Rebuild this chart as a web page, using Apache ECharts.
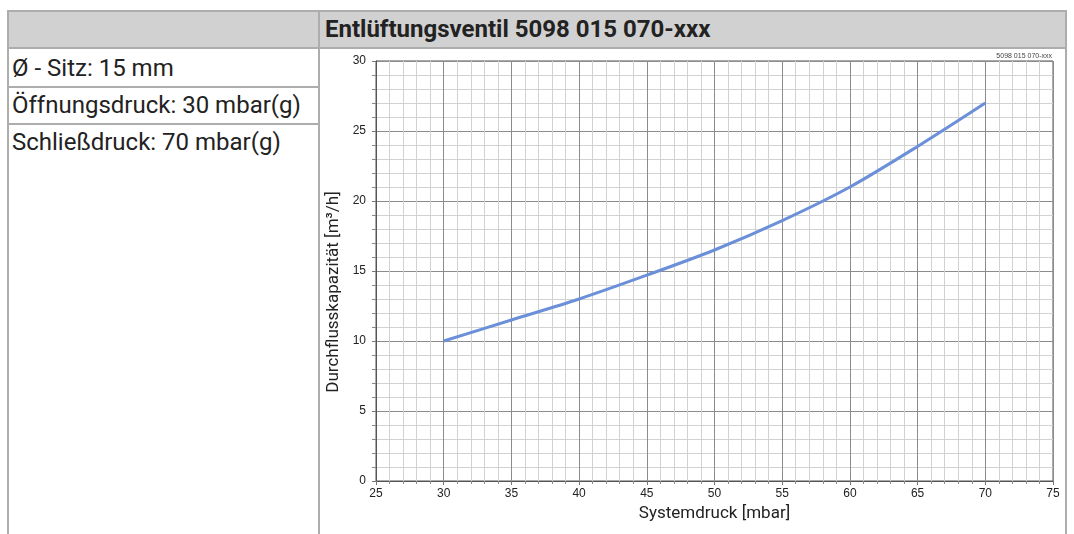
<!DOCTYPE html>
<html>
<head>
<meta charset="utf-8">
<title>Entlüftungsventil 5098 015 070-xxx</title>
<script src="https://cdn.jsdelivr.net/npm/echarts@6/dist/echarts.min.js"></script>
<style>
  body { margin: 0; background: #fff; font-family: Roboto, "Noto Sans", sans-serif; }
  .ln { position: absolute; background: #adadad; }
  .head { position: absolute; left: 8px; top: 10px; width: 1058px; height: 38px; background: #d1d1d1; }
  .title { position: absolute; left: 325px; top: 15px; font-size: 24px; font-weight: bold; color: #222; }
  .cell { position: absolute; left: 12px; font-size: 24px; color: #222; }
  #chart { position: absolute; left: 0; top: 0; width: 1074px; height: 534px; }
</style>
</head>
<body>
<!-- Tabelle im Hintergrund -->
<div class="head"></div>
<div class="ln" style="left:8px;top:10px;width:1058px;height:2px"></div>
<div class="ln" style="left:8px;top:47px;width:1058px;height:2px"></div>
<div class="ln" style="left:8px;top:86px;width:311px;height:2px"></div>
<div class="ln" style="left:8px;top:123px;width:311px;height:2px"></div>
<div class="ln" style="left:7px;top:10px;width:2px;height:524px"></div>
<div class="ln" style="left:318px;top:10px;width:2px;height:524px"></div>
<div class="ln" style="left:1065px;top:10px;width:2px;height:524px"></div>
<div class="title">Entlüftungsventil 5098 015 070-xxx</div>
<div class="cell" style="top:54px">Ø - Sitz: 15 mm</div>
<div class="cell" style="top:91px">Öffnungsdruck: 30 mbar(g)</div>
<div class="cell" style="top:128px">Schließdruck: 70 mbar(g)</div>

<div id="chart"></div>
<script>
// Werte
var systemdruck = [30, 35, 40, 45, 50, 55, 60, 65, 70]
var durchfluss = [10, 11.5, 13, 14.7, 16.5, 18.6, 21, 23.9, 27]

var chart = echarts.init(document.getElementById('chart'), null, { renderer: 'canvas' })

var points = systemdruck.map(function (x, i) { return [x, durchfluss[i]] })

chart.setOption({
  backgroundColor: 'transparent',
  animation: false,
  grid: {
    left: 376,
    right: 21,
    top: 61,
    bottom: 53,
    show: true,
    borderColor: '#555',
    borderWidth: 1
  },
  graphic: [{
    type: 'text',
    right: 22,
    top: 53,
    style: { text: '5098 015 070-xxx', fontSize: 7, fill: '#444', fontFamily: 'Liberation Sans' }
  }],
  xAxis: {
    type: 'value',
    min: 25,
    max: 75,
    interval: 5,
    name: 'Systemdruck [mbar]',
    nameLocation: 'middle',
    nameGap: 24,
    nameTextStyle: { fontSize: 17, color: '#222', fontFamily: 'Roboto' },
    axisLine: { lineStyle: { color: '#555' } },
    axisTick: { length: 4, lineStyle: { color: '#777' } },
    minorTick: { show: true, splitNumber: 5, length: 3, lineStyle: { color: '#888' } },
    axisLabel: { margin: 7, fontSize: 12, color: '#222', fontFamily: 'Liberation Sans' },
    splitLine: { lineStyle: { color: '#8c8c8c' } },
    minorSplitLine: { show: true, lineStyle: { color: '#d2d2d2' } }
  },
  yAxis: {
    type: 'value',
    min: 0,
    max: 30,
    interval: 5,
    name: 'Durchflusskapazität [m³/h]',
    nameLocation: 'middle',
    nameGap: 34,
    // Achsentitel sitzt etwas unterhalb der Mitte
    nameTextStyle: { fontSize: 17, color: '#222', fontFamily: 'Roboto', padding: [0, 42, 0, 0] },
    axisLine: { show: true, lineStyle: { color: '#555' } },
    axisTick: { show: true, length: 4, lineStyle: { color: '#777' } },
    minorTick: { show: true, splitNumber: 5, length: 4, lineStyle: { color: '#888' } },
    axisLabel: { margin: 10, fontSize: 12, color: '#222', fontFamily: 'Liberation Sans' },
    splitLine: { lineStyle: { color: '#8c8c8c' } },
    minorSplitLine: { show: true, lineStyle: { color: '#d2d2d2' } }
  },
  series: [{
    type: 'line',
    data: points,
    smooth: 0.3,
    symbol: 'none',
    lineStyle: { color: '#6b8fd9', width: 3 }
  }]
})
</script>
</body>
</html>
